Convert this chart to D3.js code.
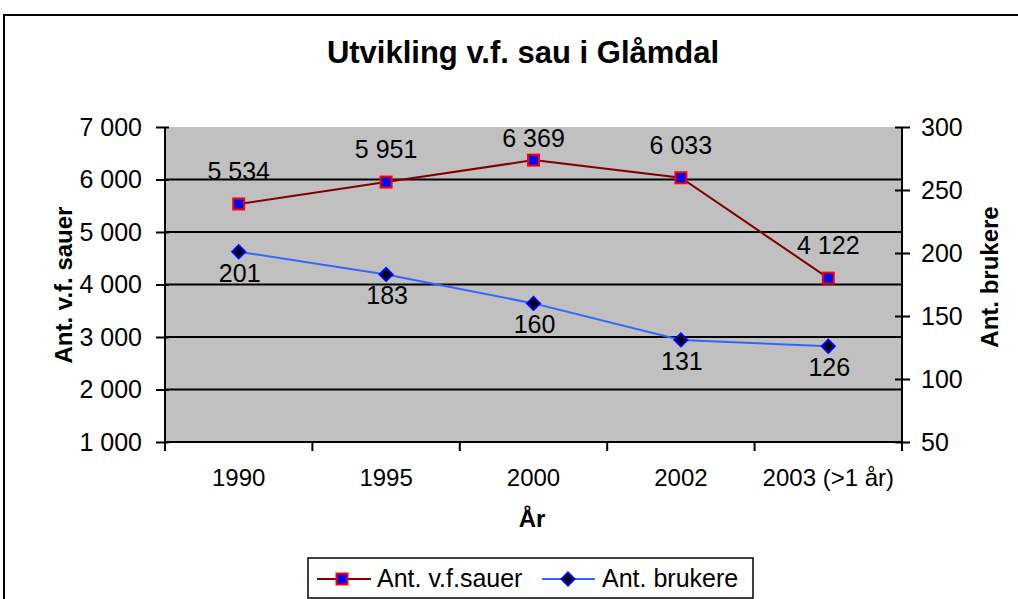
<!DOCTYPE html>
<html><head><meta charset="utf-8">
<script src="https://cdn.jsdelivr.net/npm/d3@7/dist/d3.min.js"></script>
<style>body{margin:0;background:#fff}svg{display:block;font-family:"Liberation Sans",Arial,sans-serif}</style>
</head><body>
<svg id="c" width="1018" height="599"></svg>
<script>
const categories = ["1990","1995","2000","2002","2003 (>1 år)"];
const sauer = [5534,5951,6369,6033,4122];
const brukere = [201,183,160,131,126];
const leftTicks = [1000,2000,3000,4000,5000,6000,7000];
const rightTicks = [50,100,150,200,250,300];
const fmt = v => d3.format(",")(v).replace(/,/g," ");

const svg = d3.select("#c");
const m = {l:165, r:902, t:127, b:442};
// frame
svg.append("rect").attr("x",4).attr("y",15).attr("width",1020).attr("height",600)
  .attr("fill","#fff").attr("stroke","#000").attr("stroke-width",2);

const x = d3.scaleBand().domain(categories).range([m.l,m.r]);
const yL = d3.scaleLinear().domain([1000,7000]).range([m.b,m.t]);
const yR = d3.scaleLinear().domain([50,300]).range([m.b,m.t]);

svg.append("rect").attr("x",m.l).attr("y",m.t).attr("width",m.r-m.l).attr("height",m.b-m.t).attr("fill","#C0C0C0");

// gridlines
svg.append("g").selectAll("line").data(leftTicks.filter(d=>d>1000 && d<7000)).join("line")
  .attr("x1",m.l).attr("x2",m.r).attr("y1",d=>yL(d)).attr("y2",d=>yL(d))
  .attr("stroke","#000").attr("stroke-width",2);

// left axis
const gL = svg.append("g").attr("transform",`translate(${m.l},0)`)
  .call(d3.axisLeft(yL).tickValues(leftTicks).tickFormat(fmt).tickSize(9).tickPadding(14));
gL.selectAll(".tick line").attr("x2",-9).attr("x1",4);
// right axis
const gR = svg.append("g").attr("transform",`translate(${m.r},0)`)
  .call(d3.axisRight(yR).tickValues(rightTicks).tickSize(8).tickPadding(11));
gR.selectAll(".tick line").attr("x1",-7);
// bottom axis
const gB = svg.append("g").attr("transform",`translate(0,${m.b})`)
  .call(d3.axisBottom(x).tickSize(0).tickPadding(26));
const bounds = categories.map(c=>x(c)).concat([m.r]);
svg.append("g").selectAll("line").data(bounds).join("line")
  .attr("x1",d=>d).attr("x2",d=>d).attr("y1",m.b).attr("y2",m.b+9).attr("stroke","#000").attr("stroke-width",2);

[gL,gR,gB].forEach(g=>{
  g.selectAll(".domain").attr("stroke","#000").attr("stroke-width",2);
  g.selectAll(".tick line").attr("stroke","#000").attr("stroke-width",2);
  g.selectAll(".tick text").attr("fill","#000").style("font-size","25px").style("font-family","'Liberation Sans',Arial,sans-serif");
});
gB.selectAll(".tick text").style("font-size","24px").attr("dy","0").attr("y",44);
gL.selectAll(".domain").attr("d",`M0,${m.t}V${m.b}`);
gR.selectAll(".domain").attr("d",`M0,${m.t}V${m.b}`);
gB.selectAll(".domain").attr("d",`M${m.l},0H${m.r}`);

const cx = c => x(c)+x.bandwidth()/2;

// sauer line
svg.append("path").datum(sauer).attr("fill","none").attr("stroke","#800000").attr("stroke-width",2)
  .attr("d",d3.line().x((d,i)=>cx(categories[i])).y(d=>yL(d)));
// brukere line
svg.append("path").datum(brukere).attr("fill","none").attr("stroke","#3366FF").attr("stroke-width",2)
  .attr("d",d3.line().x((d,i)=>cx(categories[i])).y(d=>yR(d)));

// markers
svg.append("g").selectAll("rect").data(sauer).join("rect")
  .attr("x",(d,i)=>cx(categories[i])-5.5).attr("y",d=>yL(d)-5.5).attr("width",11).attr("height",11)
  .attr("fill","#0000FF").attr("stroke","#FF0000").attr("stroke-width",2);
svg.append("g").selectAll("path").data(brukere).join("path")
  .attr("transform",(d,i)=>`translate(${cx(categories[i])},${yR(d)})`)
  .attr("d","M0,-6.5L6.5,0L0,6.5L-6.5,0Z")
  .attr("fill","#000").attr("stroke","#0000FF").attr("stroke-width",2);

// data labels (kept inside the plot area, as the original does)
svg.append("g").selectAll("text").data(sauer).join("text")
  .attr("x",(d,i)=>cx(categories[i])).attr("y",d=>Math.max(yL(d)-24, m.t+20))
  .attr("text-anchor","middle").style("font-size","25px").text(fmt);
svg.append("g").selectAll("text").data(brukere).join("text")
  .attr("x",(d,i)=>cx(categories[i])+1).attr("y",d=>yR(d)+30)
  .attr("text-anchor","middle").style("font-size","25px").text(d=>d);

// titles
svg.append("text").attr("x",523).attr("y",63).attr("text-anchor","middle")
  .style("font-size","31px").style("font-weight","bold").text("Utvikling v.f. sau i Glåmdal");
svg.append("text").attr("transform","translate(72,285) rotate(-90)").attr("text-anchor","middle")
  .style("font-size","24px").style("font-weight","bold").text("Ant. v.f. sauer");
svg.append("text").attr("transform","translate(998,277) rotate(-90)").attr("text-anchor","middle")
  .style("font-size","24px").style("font-weight","bold").text("Ant. brukere");
svg.append("text").attr("x",532).attr("y",527).attr("text-anchor","middle")
  .style("font-size","24px").style("font-weight","bold").text("År");

// legend
const lg = svg.append("g");
lg.append("rect").attr("x",308).attr("y",558).attr("width",445).attr("height",40)
  .attr("fill","#fff").attr("stroke","#000").attr("stroke-width",1.5);
lg.append("line").attr("x1",317).attr("x2",371).attr("y1",579).attr("y2",579).attr("stroke","#800000").attr("stroke-width",2);
lg.append("rect").attr("x",336.5).attr("y",573.5).attr("width",11).attr("height",11).attr("fill","#0000FF").attr("stroke","#FF0000").attr("stroke-width",2);
lg.append("text").attr("x",377).attr("y",587).style("font-size","25px").text("Ant. v.f.sauer");
lg.append("line").attr("x1",542).attr("x2",595).attr("y1",579).attr("y2",579).attr("stroke","#3366FF").attr("stroke-width",2);
lg.append("path").attr("transform","translate(568,579)").attr("d","M0,-6.5L6.5,0L0,6.5L-6.5,0Z").attr("fill","#000").attr("stroke","#0000FF").attr("stroke-width",2);
lg.append("text").attr("x",602).attr("y",587).style("font-size","25px").text("Ant. brukere");
</script>
</body></html>
